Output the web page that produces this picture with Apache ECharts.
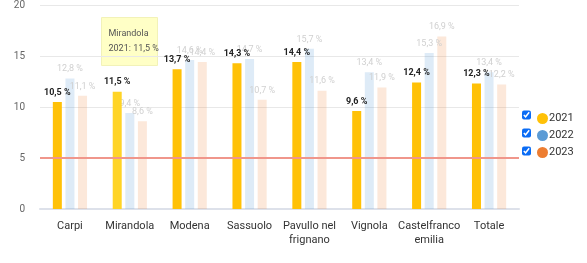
<!DOCTYPE html>
<html>
<head>
<meta charset="utf-8">
<script src="https://cdn.jsdelivr.net/npm/echarts@6/dist/echarts.min.js"></script>
<style>
  html, body { margin: 0; padding: 0; background: #fff; }
  #wrap { position: relative; width: 587px; height: 263px; }
  #chart { width: 587px; height: 263px; }
  .cb { position: absolute; left: 522px; width: 9px; height: 10px; margin: 0; accent-color: #0a6cf5; }
</style>
</head>
<body>
<div id="wrap">
  <div id="chart"></div>
  <input class="cb" type="checkbox" checked style="top:110px">
  <input class="cb" type="checkbox" checked style="top:128px">
  <input class="cb" type="checkbox" checked style="top:146px">
</div>
<script>
var categories = ['Carpi', 'Mirandola', 'Modena', 'Sassuolo', 'Pavullo nel\nfrignano', 'Vignola', 'Castelfranco\nemilia', 'Totale']
var years = ['2021', '2022', '2023']
var values2021 = [10.5, 11.5, 13.7, 14.3, 14.4, 9.6, 12.4, 12.3]
var values2022 = [12.8, 9.4, 14.6, 14.7, 15.7, 13.4, 15.3, 13.4]
var values2023 = [11.1, 8.6, 14.4, 10.7, 11.6, 11.9, 16.9, 12.2]
var yTicks = [0, 5, 10, 15, 20]
var threshold = 5
var colors = ['#ffc107', '#5b9bd5', '#ed7d31']
var fadedColors = ['#ffc107', 'rgba(91,155,213,0.2)', 'rgba(237,125,49,0.18)']

var myChart = echarts.init(document.getElementById('chart'))

function fmt(v) {
  return String(v.toFixed(1)).replace('.', ',') + ' %'
}

// 2021 highlighted, the other years faded
var data2021 = values2021.map(function (v, i) {
  if (i === 1) return { value: v, itemStyle: { color: '#ffd426' } }
  return v
})

var fadedLabel = {
  show: true, position: 'top', distance: 5,
  color: '#d0d0d0', fontSize: 9, fontFamily: 'Roboto',
  formatter: function (p) { return fmt(p.value) }
}

var options = {
  animation: false,
  grid: { left: 40, right: 68, top: 5, bottom: 54 },
  legend: {
    orient: 'vertical',
    left: 532,
    top: 108,
    itemGap: 6,
    itemWidth: 11,
    itemHeight: 11,
    icon: 'circle',
    textStyle: { color: '#333', fontSize: 11, fontFamily: 'Roboto', padding: [0, 0, 0, -4] },
    data: years.map(function (y, i) {
      return { name: y, itemStyle: { color: colors[i] } }
    })
  },
  xAxis: {
    type: 'category',
    data: categories,
    axisTick: { show: false },
    axisLine: { lineStyle: { color: '#dde1ea', width: 2 } },
    axisLabel: { color: '#333', fontSize: 11, fontFamily: 'Roboto', margin: 10, lineHeight: 14, interval: 0 }
  },
  yAxis: {
    type: 'value',
    min: yTicks[0],
    max: yTicks[yTicks.length - 1],
    interval: 5,
    axisLabel: { color: '#666', fontSize: 10, fontFamily: 'Roboto', margin: 15 },
    splitLine: { lineStyle: { color: '#e8e8e8', width: 1 } }
  },
  series: [
    {
      name: years[0],
      type: 'bar',
      data: data2021,
      barWidth: 9,
      barGap: '40%',
      itemStyle: { color: fadedColors[0] },
      label: {
        show: true, position: 'top', distance: 5,
        color: '#222', fontSize: 9, fontFamily: 'Roboto', fontWeight: 'bold',
        formatter: function (p) { return fmt(p.value) }
      },
      z: 4
    },
    {
      name: years[1],
      type: 'bar',
      data: values2022,
      barWidth: 9,
      itemStyle: { color: fadedColors[1] },
      label: fadedLabel,
      z: 2
    },
    {
      name: years[2],
      type: 'bar',
      data: values2023,
      barWidth: 9,
      itemStyle: { color: fadedColors[2] },
      label: fadedLabel,
      z: 2
    },
    {
      // threshold line, drawn under the 2021 bars
      name: 'soglia',
      type: 'line',
      data: [],
      z: 3,
      markLine: {
        symbol: 'none',
        silent: true,
        label: { show: false },
        lineStyle: { color: '#f0968b', width: 2, type: 'solid' },
        data: [{ yAxis: threshold }]
      }
    }
  ],
  graphic: [
    {
      type: 'group',
      left: 101,
      top: 17,
      z: 10,
      children: [
        { type: 'rect', shape: { x: 0, y: 0, width: 56, height: 48 }, style: { fill: '#ffffc6', stroke: '#f2f2b8' } },
        { type: 'text', x: 7, y: 12, style: { text: 'Mirandola', fill: '#555', font: '9px Roboto' } },
        { type: 'text', x: 7, y: 27, style: { text: '2021: ' + fmt(values2021[1]), fill: '#555', font: '9px Roboto' } }
      ]
    }
  ]
}

myChart.setOption(options)
</script>
</body>
</html>
